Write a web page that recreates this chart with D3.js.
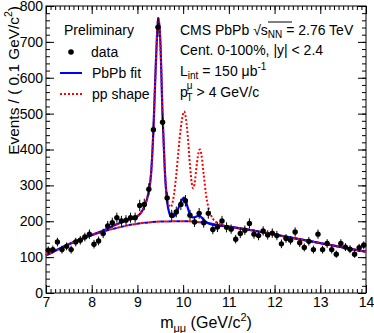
<!DOCTYPE html>
<html>
<head>
<meta charset="utf-8">
<script src="https://cdn.jsdelivr.net/npm/d3@7"></script>
<style>
  body { margin: 0; background: #fff; }
  text { font-family: "Liberation Sans", Arial, sans-serif; fill: #000; }
</style>
</head>
<body>
<div id="chart"></div>
<script>
// binned data (bin width 0.1 GeV)
const mass = [7.05,7.15,7.25,7.35,7.45,7.55,7.65,7.75,7.85,7.95,
  8.05,8.15,8.25,8.35,8.45,8.55,8.65,8.75,8.85,8.95,
  9.05,9.15,9.25,9.35,9.45,9.55,9.65,9.75,9.85,9.95,
  10.05,10.15,10.25,10.35,10.45,10.55,10.65,10.75,10.85,10.95,
  11.05,11.15,11.25,11.35,11.45,11.55,11.65,11.75,11.85,11.95,
  12.05,12.15,12.25,12.35,12.45,12.55,12.65,12.75,12.85,12.95,
  13.05,13.15,13.25,13.35,13.45,13.55,13.65,13.75,13.85,13.95];
const counts = [119,121,142,121,130,121,142,147,156,164,
  136,145,166,187,196,210,201,203,210,210,
  244,247,289,455,741,476,265,217,226,247,
  257,217,198,222,196,222,177,184,201,183,
  178,150,166,175,194,164,160,173,162,167,
  160,137,152,147,170,140,127,144,121,164,
  121,138,121,108,138,128,122,108,126,133];
const errors = [11,11,12,11,11,11,12,12,12,13,
  12,12,13,14,14,14,14,14,14,14,
  16,16,17,21,27,22,16,15,15,16,
  16,15,14,15,14,15,13,14,14,14,
  13,12,13,13,14,13,13,13,13,13,
  13,12,12,12,13,12,11,12,11,13,
  11,12,11,10,12,11,11,10,11,11];

// PbPb fit (total)
const fitMass = [7.0,7.5,8.0,8.25,8.5,8.75,9.0,9.1,9.2,9.25,9.3,9.35,9.4,9.45,9.46,9.5,9.55,9.6,9.65,9.7,9.75,
  9.8,9.85,9.9,9.95,10.0,10.02,10.05,10.1,10.15,10.2,10.25,10.3,10.35,10.4,10.45,10.5,10.6,11.0,11.5,12.0,12.5,13.0,13.5,14.0];
const fitVals = [105,136,162,174,189,202,214,228,258,285,335,455,630,760,766,705,495,340,255,222,212,
  214,222,238,254,264,266,260,238,218,211,211,214,215,211,204,198,192,185,175,163,151,139,127,115];

// pp shape
const ppMass = [7.0,7.5,8.0,8.25,8.5,8.75,9.0,9.1,9.2,9.25,9.3,9.35,9.4,9.45,9.46,9.5,9.55,9.6,9.65,9.7,9.73,9.76,
  9.8,9.85,9.9,9.95,10.0,10.02,10.05,10.1,10.15,10.2,10.22,10.25,10.3,10.35,10.37,10.4,10.45,10.5,10.55,10.6,10.65,10.7,10.8,11.0,11.5,12.0,12.5,13.0,13.5,14.0];
const ppVals = [105,136,162,174,189,202,214,228,258,285,335,455,630,760,766,705,495,340,262,242,240,248,
  275,330,400,462,500,506,495,440,355,298,292,305,360,398,400,385,330,275,240,220,207,200,192,185,175,163,151,139,127,115];

// background
const bkgMass = [7.0,7.5,8.0,8.5,9.0,9.5,10.0,10.5,11.0,11.5,12.0,12.5,13.0,13.5,14.0];
const bkgVals = [105,136,161,180,193,199,200,195,185,175,163,151,139,127,115];

const xTicks = [7,8,9,10,11,12,13,14];
const yTicks = [0,100,200,300,400,500,600,700,800];

const W = 374, H = 333;
const margin = { top: 6, right: 8, bottom: 40, left: 46 };
const width = W - margin.left - margin.right;
const height = H - margin.top - margin.bottom;

const svg = d3.select("#chart").append("svg")
  .attr("width", W).attr("height", H);
const g = svg.append("g").attr("transform", `translate(${margin.left},${margin.top})`);

const x = d3.scaleLinear().domain([7, 14]).range([0, width]);
const y = d3.scaleLinear().domain([0, 800]).range([height, 0]);

const minorX = d3.range(70, 141).map(d => d / 10);
const minorY = d3.range(0, 41).map(d => d * 20);

function styleAxis(sel) {
  sel.select(".domain").remove();
  sel.selectAll("line").attr("stroke", "#000").attr("stroke-width", 1);
  sel.selectAll("text").style("font-size", "14px").attr("fill", "#000");
}

// bottom
g.append("g").attr("transform", `translate(0,${height})`)
  .call(d3.axisBottom(x).tickValues(minorX).tickSize(-4).tickFormat(""))
  .call(styleAxis);
g.append("g").attr("transform", `translate(0,${height})`)
  .call(d3.axisBottom(x).tickValues(xTicks).tickSize(-8).tickPadding(4).tickFormat(d3.format("d")))
  .call(styleAxis);
// top
g.append("g")
  .call(d3.axisTop(x).tickValues(minorX).tickSize(-4).tickFormat(""))
  .call(styleAxis);
g.append("g")
  .call(d3.axisTop(x).tickValues(xTicks).tickSize(-8).tickFormat(""))
  .call(styleAxis);
// left
g.append("g")
  .call(d3.axisLeft(y).tickValues(minorY).tickSize(-4).tickFormat(""))
  .call(styleAxis);
g.append("g")
  .call(d3.axisLeft(y).tickValues(yTicks).tickSize(-8).tickPadding(3).tickFormat(d3.format("d")))
  .call(styleAxis);
// right
g.append("g").attr("transform", `translate(${width},0)`)
  .call(d3.axisRight(y).tickValues(minorY).tickSize(-4).tickFormat(""))
  .call(styleAxis);
g.append("g").attr("transform", `translate(${width},0)`)
  .call(d3.axisRight(y).tickValues(yTicks).tickSize(-8).tickFormat(""))
  .call(styleAxis);

// frame
g.append("rect").attr("width", width).attr("height", height)
  .attr("fill", "none").attr("stroke", "#000").attr("stroke-width", 1);

const curves = g.append("g");

const line = d3.line().x(d => x(d[0])).y(d => y(d[1])).curve(d3.curveMonotoneX);
const pairs = (a, b) => a.map((m, i) => [m, b[i]]);

// background: blue dashed with red dashed between
curves.append("path").datum(pairs(bkgMass, bkgVals))
  .attr("fill", "none").attr("stroke", "#0000ff").attr("stroke-width", 2)
  .attr("stroke-dasharray", "4,4").attr("d", line);
curves.append("path").datum(pairs(bkgMass, bkgVals))
  .attr("fill", "none").attr("stroke", "#ff0000").attr("stroke-width", 2)
  .attr("stroke-dasharray", "4,4").attr("stroke-dashoffset", 4).attr("d", line);

// PbPb fit
curves.append("path").datum(pairs(fitMass, fitVals))
  .attr("fill", "none").attr("stroke", "#0000ff").attr("stroke-width", 2.2).attr("d", line);

// pp shape
curves.append("path").datum(pairs(ppMass, ppVals))
  .attr("fill", "none").attr("stroke", "#ff0000").attr("stroke-width", 2)
  .attr("stroke-dasharray", "2,2").attr("d", line);

// data points
const pts = g.append("g").selectAll("g").data(mass.map((m, i) => ({ m, v: counts[i], e: errors[i] })))
  .join("g");
pts.append("line")
  .attr("x1", d => x(d.m)).attr("x2", d => x(d.m))
  .attr("y1", d => y(d.v - d.e)).attr("y2", d => y(d.v + d.e))
  .attr("stroke", "#000").attr("stroke-width", 1);
pts.append("line")
  .attr("x1", d => x(d.m - 0.05)).attr("x2", d => x(d.m + 0.05))
  .attr("y1", d => y(d.v)).attr("y2", d => y(d.v))
  .attr("stroke", "#000").attr("stroke-width", 1);
pts.append("circle")
  .attr("cx", d => x(d.m)).attr("cy", d => y(d.v)).attr("r", 2.7).attr("fill", "#000");

// axis titles
const xt = svg.append("text").attr("x", margin.left + width / 2).attr("y", 328)
  .attr("text-anchor", "middle").style("font-size", "16px");
xt.append("tspan").text("m");
xt.append("tspan").attr("dy", 4).style("font-size", "11px").text("μμ");
xt.append("tspan").attr("dy", -4).text(" (GeV/c");
xt.append("tspan").attr("dy", -7).style("font-size", "11px").text("2");
xt.append("tspan").attr("dy", 7).text(")");

const yt = svg.append("text").attr("transform", "translate(19,6) rotate(-90)")
  .attr("text-anchor", "end").style("font-size", "15.4px");
yt.append("tspan").text("Events / ( 0.1 GeV/c");
yt.append("tspan").attr("dy", -7).style("font-size", "10.5px").text("2");
yt.append("tspan").attr("dy", 7).text(")");

// legend
const lg = svg.append("g");
lg.append("text").attr("x", 64).attr("y", 35).style("font-size", "14px").text("Preliminary");
lg.append("circle").attr("cx", 71).attr("cy", 52).attr("r", 2.8).attr("fill", "#000");
lg.append("text").attr("x", 91).attr("y", 57).style("font-size", "14px").text("data");
lg.append("line").attr("x1", 60).attr("x2", 82).attr("y1", 73).attr("y2", 73)
  .attr("stroke", "#0000ff").attr("stroke-width", 2);
lg.append("text").attr("x", 92).attr("y", 78).style("font-size", "14px").text("PbPb fit");
lg.append("line").attr("x1", 60).attr("x2", 82).attr("y1", 94).attr("y2", 94)
  .attr("stroke", "#ff0000").attr("stroke-width", 2).attr("stroke-dasharray", "2,2");
lg.append("text").attr("x", 92).attr("y", 99).style("font-size", "14px").text("pp shape");

// info text
const t1 = svg.append("text").attr("x", 180).attr("y", 35).style("font-size", "14px");
t1.append("tspan").text("CMS PbPb ");
t1.append("tspan").text("√");
t1.append("tspan").text("s");
t1.append("tspan").attr("dy", 3).style("font-size", "10px").text("NN");
t1.append("tspan").attr("dy", -3).text(" = 2.76 TeV");
svg.append("line").attr("x1", 268).attr("x2", 292).attr("y1", 22).attr("y2", 22)
  .attr("stroke", "#000").attr("stroke-width", 1);

svg.append("text").attr("x", 180).attr("y", 55).style("font-size", "14px")
  .text("Cent. 0-100%, |y| < 2.4");

const t3 = svg.append("text").attr("x", 180).attr("y", 76).style("font-size", "14px");
t3.append("tspan").text("L");
t3.append("tspan").attr("dy", 3).style("font-size", "10px").text("int");
t3.append("tspan").attr("dy", -3).text(" = 150 μb");
t3.append("tspan").attr("dy", -6).style("font-size", "10px").text("-1");

const t4 = svg.append("text").attr("x", 180).attr("y", 97).style("font-size", "14px");
t4.append("tspan").text("p");
t4.append("tspan").attr("dx", -1).attr("dy", -8).style("font-size", "10px").text("μ");
t4.append("tspan").attr("dx", -6).attr("dy", 12).style("font-size", "10px").text("T");
t4.append("tspan").attr("dy", -4).text(" > 4 GeV/c");
</script>
</body>
</html>
